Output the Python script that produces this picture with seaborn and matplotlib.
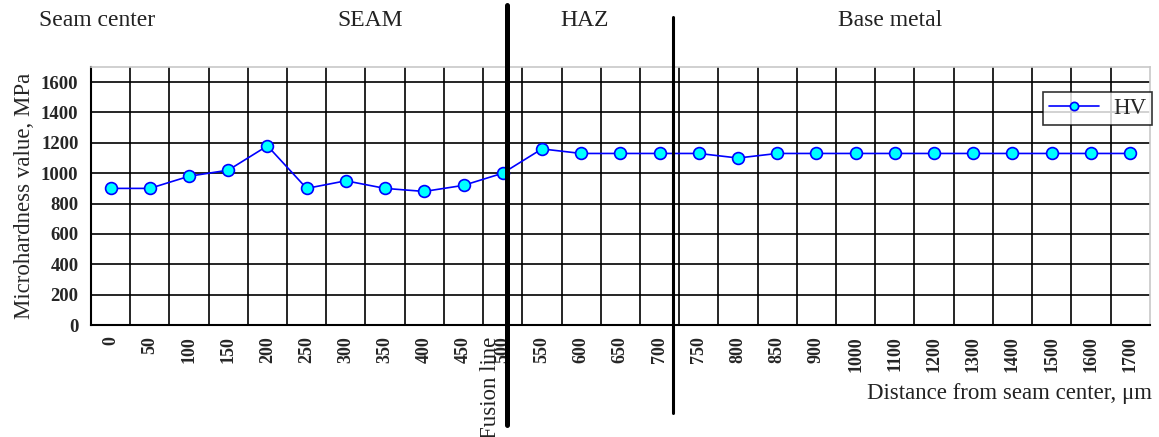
import matplotlib
matplotlib.use("Agg")
import matplotlib.pyplot as plt
import seaborn as sns
import numpy as np
import pandas as pd

# Data
distance_labels = ['0', '50', '100', '150', '200', '250', '300', '350', '400', '450',
                   '500', '550', '600', '650', '700', '750', '800', '850', '900',
                   '1000', '1100', '1200', '1300', '1400', '1500', '1600', '1700']
hv_values = [900, 900, 980, 1020, 1180, 900, 950, 900, 880, 920,
             1000, 1160, 1130, 1130, 1130, 1130, 1100, 1130, 1130,
             1130, 1130, 1130, 1130, 1130, 1130, 1130, 1130]
y_ticks = [0, 200, 400, 600, 800, 1000, 1200, 1400, 1600]

zone_names = ['Seam center', 'SEAM', 'HAZ', 'Base metal']

df = pd.DataFrame({'pos': np.arange(len(distance_labels)), 'HV': hv_values})

sns.set_style('white')
plt.rcParams['font.family'] = ['Liberation Serif', 'DejaVu Serif']

fig = plt.figure(figsize=(11.59, 4.37), dpi=100)
ax = fig.add_axes([0.0785, 0.256, 0.9135, 0.591])

n = len(distance_labels)
# grid: horizontal at y ticks, vertical at category boundaries
for yv in y_ticks[1:]:
    ax.axhline(yv, color='black', lw=1.2, zorder=1)
for b in np.arange(0.5, n - 0.5, 1):
    ax.axvline(b, color='black', lw=1.2, zorder=1)

sns.lineplot(data=df, x='pos', y='HV', ax=ax, color='#0000ff', lw=1.2,
             marker='o', markersize=8.5, markerfacecolor='#00ffff',
             markeredgecolor='#0000ff', markeredgewidth=1.2, label='HV', zorder=3)

ax.set_xlim(-0.5, n - 0.5)
ax.set_ylim(0, 1700)
ax.set_yticks(y_ticks)
ax.set_yticklabels([str(v) for v in y_ticks], fontweight='bold', fontsize=13.5)
ax.set_xticks(np.arange(n))
ax.set_xticklabels(distance_labels, rotation=90, fontweight='bold', fontsize=13)
ax.set_xticks(np.arange(-0.5, n, 1), minor=True)
ax.tick_params(axis='x', which='major', direction='inout', length=8, width=1.2, pad=4)
ax.tick_params(axis='x', which='minor', direction='inout', length=8, width=1.2)
ax.tick_params(axis='y', which='major', direction='out', length=5, width=1.2, pad=4)

for side in ['left', 'bottom']:
    ax.spines[side].set_color('black')
    ax.spines[side].set_linewidth(1.5)
for side in ['top', 'right']:
    ax.spines[side].set_color('#c8c8c8')
    ax.spines[side].set_linewidth(1.2)

ax.set_xlabel('')
ax.set_ylabel('Microhardness value, MPa', fontsize=16.5, labelpad=4)

leg = ax.legend(loc='upper right', bbox_to_anchor=(1152 / 1159, 1 - 92 / 437),
                bbox_transform=fig.transFigure, borderaxespad=0, fontsize=16.5,
                frameon=True, fancybox=False, edgecolor='black', markerscale=0.7,
                handlelength=2.2, handletextpad=0.6, borderpad=0.25)
leg.get_frame().set_linewidth(1.2)

# zone boundary lines (fusion line and HAZ limit), extending outside the axes
fig.add_artist(plt.Line2D([507 / 1159, 507 / 1159], [1 - 5 / 437, 1 - 425 / 437],
                          color='black', lw=3.6))
fig.add_artist(plt.Line2D([673 / 1159, 673 / 1159], [1 - 17 / 437, 1 - 413 / 437],
                          color='black', lw=2.2))

# zone labels
zone_x = [97, 370, 585, 890]
for name, xp in zip(zone_names, zone_x):
    fig.text(xp / 1159, 1 - 21 / 437, name, ha='center', va='center',
             fontsize=17, color='#222222')

fig.text(490 / 1159, 1 - 388 / 437, 'Fusion line', rotation=90, ha='center',
         va='center', fontsize=16.5, color='#222222')
fig.text(1152 / 1159, 1 - 393 / 437, 'Distance from seam center, μm', ha='right',
         va='center', fontsize=16.5, color='#222222')

fig.savefig('out.png', dpi=100)
